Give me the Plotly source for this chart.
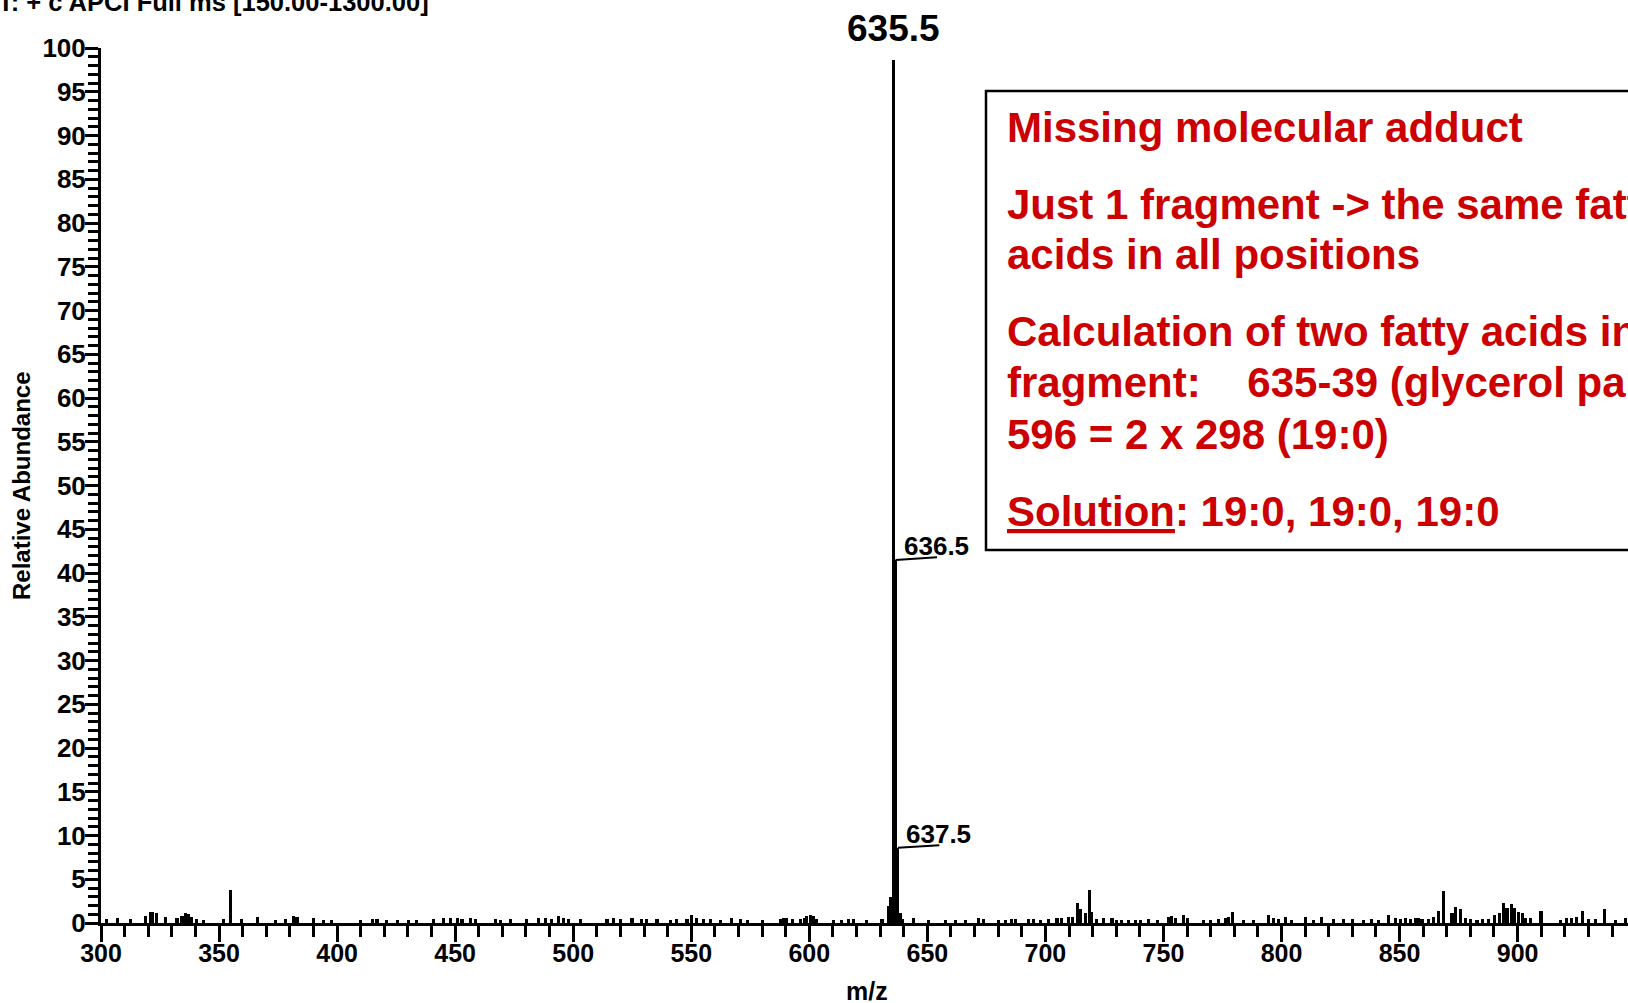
import plotly.graph_objects as go

# scan header of the original screenshot (only its lower half is visible)
scan_filter = "T: + c APCI Full ms [150.00-1300.00]"

# centroid sticks: m/z and relative abundance (%)
peak_mz = [
    302.5, 306.8, 312.4, 318.8, 320.9, 321.9, 323.7, 327.2, 332.2, 334.3, 335.7, 337.1, 338.5, 340.6, 343.5,
    351.9, 355.0, 359.7, 366.3, 373.8, 378.1, 381.6, 383.0, 390.1, 394.3, 397.8, 409.8, 414.8, 416.9, 421.1,
    425.4, 430.3, 433.8,
    440.9, 445.1, 447.9, 450.8, 452.9, 456.4, 458.5, 467.0, 469.1, 473.4, 480.4, 485.4, 488.2, 491.0, 493.8,
    496.0, 498.1, 503.0, 514.3, 517.1, 519.9, 524.9, 529.1, 531.2, 535.5, 541.1, 543.9, 548.2, 550.3, 552.4,
    555.2, 558.1, 562.3, 567.2, 570.8, 574.0,
    580.0, 587.7, 589.1, 590.5, 592.7, 596.2, 598.0, 599.0, 600.4, 601.8, 603.2, 610.3, 613.8, 616.7, 618.8,
    624.4, 630.8, 633.5, 634.5, 635.5, 636.5, 637.5, 638.5, 639.5, 644.2, 650.5, 657.6, 661.8, 666.1, 671.7,
    673.8, 680.2, 683.0, 685.8, 687.3, 692.9, 695.0, 697.8, 701.4, 704.9, 707.0, 709.6, 711.6,
    713.4, 714.8, 716.9, 718.6, 719.7, 721.8, 724.7, 728.2, 730.3, 732.4, 735.3, 738.1, 740.2, 743.7, 747.3,
    752.2, 753.6, 755.0, 758.6, 760.0, 767.0, 769.9, 773.4, 776.2, 777.6, 779.4, 784.0, 788.2, 794.6, 796.7,
    798.8, 801.6, 804.4, 810.1, 813.6, 817.1, 822.1, 826.3, 829.9, 834.8, 838.3, 841.1, 845.4, 848.2,
    850.3, 852.4, 854.6, 856.7, 858.1, 859.5, 862.3, 864.4, 866.3, 868.7, 872.2, 873.6, 875.7, 877.8, 880.0,
    882.8, 885.2, 887.7, 890.3, 892.2, 894.2, 895.5, 897.3, 898.7, 900.4, 901.9, 903.5, 905.4, 909.9, 918.1,
    920.9, 923.0, 925.1, 927.3, 930.1, 932.9, 936.7, 941.4, 945.6,
]
peak_int = [
    0.42, 0.53, 0.42, 0.80, 1.30, 1.30, 1.10, 0.65, 0.53, 0.80, 1.18, 1.03, 0.72, 0.42, 0.34,
    0.42, 3.77, 0.42, 0.65, 0.34, 0.42, 0.80, 0.72, 0.53, 0.34, 0.34, 0.34, 0.42, 0.42, 0.34,
    0.34, 0.34, 0.34,
    0.42, 0.53, 0.53, 0.53, 0.42, 0.53, 0.42, 0.42, 0.34, 0.42, 0.42, 0.53, 0.53, 0.42, 0.80,
    0.61, 0.42, 0.42, 0.42, 0.53, 0.42, 0.53, 0.42, 0.42, 0.42, 0.34, 0.42, 0.42, 0.91, 0.53,
    0.42, 0.42, 0.34, 0.53, 0.42, 0.34,
    0.34, 0.42, 0.53, 0.53, 0.42, 0.42, 0.61, 0.80, 0.91, 0.80, 0.42, 0.34, 0.34, 0.42, 0.42,
    0.34, 0.42, 1.90, 3.00, 98.6, 41.5, 8.60, 1.10, 0.50, 0.53, 0.34, 0.34, 0.34, 0.34, 0.53,
    0.42, 0.34, 0.34, 0.42, 0.42, 0.42, 0.42, 0.34, 0.42, 0.53, 0.53, 0.72, 0.72,
    2.25, 1.56, 1.10, 3.77, 1.30, 0.42, 0.53, 0.53, 0.34, 0.34, 0.34, 0.34, 0.34, 0.42, 0.34,
    0.72, 0.80, 0.53, 0.91, 0.53, 0.34, 0.34, 0.42, 0.53, 0.72, 1.30, 0.34, 0.34, 0.91, 0.53,
    0.42, 0.72, 0.34, 0.65, 0.34, 0.72, 0.42, 0.42, 0.42, 0.34, 0.42, 0.34, 0.91, 0.53,
    0.42, 0.53, 0.42, 0.53, 0.53, 0.42, 0.42, 0.72, 1.41, 3.70, 1.10, 1.87, 1.56, 0.53, 0.42,
    0.34, 0.42, 0.42, 0.91, 1.10, 2.25, 1.68, 2.17, 1.68, 1.30, 1.10, 0.53, 0.53, 1.41, 0.34,
    0.53, 0.53, 0.72, 1.41, 0.42, 0.42, 1.56, 0.34, 0.53,
]
assert len(peak_mz) == len(peak_int)

# peaks carrying an m/z label
label_mz = [635.5, 636.5, 637.5]
label_text = ["635.5", "636.5", "637.5"]

x_ticks = list(range(300, 950, 50))
y_ticks = list(range(0, 105, 5))

note_lines = [
    "Missing molecular adduct",
    "Just 1 fragment -> the same fatty",
    "acids in all positions",
    "Calculation of two fatty acids in the",
    "fragment:" + "\u00a0" * 4 + "635-39 (glycerol part) =",
    "596 = 2 x 298 (19:0)",
    "<u>Solution</u>: 19:0, 19:0, 19:0",
]
note_rows = [127, 204, 255, 332, 383, 434, 511]  # pixel rows of the note lines

# page geometry
W, H = 1628, 1003
ML, MT, MB = 101, 48, 80
PW, PH = W - ML, H - MT - MB
PX_PER_MZ = 2.361
PX_PER_PCT = PH / 100
FONT = "Liberation Sans, Arial, sans-serif"
RED = "#CC0000"


def px(x):
    return (x - ML) / PW


def py(y):
    return 1 - (y - MT) / PH


fig = go.Figure()

fig.add_trace(
    go.Bar(
        x=peak_mz,
        y=peak_int,
        width=1.3,
        marker=dict(color="black", line=dict(width=0)),
        hoverinfo="skip",
        showlegend=False,
    )
)

ann = []
for mz, txt in zip(label_mz, label_text):
    v = peak_int[peak_mz.index(mz)]
    if v > 90:
        # base peak label sits above the plot area -> place it in paper units
        top_px = MT + (100 - v) * PX_PER_PCT
        ann.append(dict(x=mz, y=py(top_px - 32), xref="x", yref="paper", text=txt, showarrow=False,
                        xanchor="center", yanchor="middle",
                        font=dict(family=FONT, size=37, color="black", weight="bold")))
        continue
    # slanted leader from the stick top under the label
    fig.add_trace(
        go.Scatter(
            x=[mz, mz + 17.6],
            y=[v, v + 0.3],
            mode="lines",
            line=dict(color="black", width=2),
            hoverinfo="skip",
            showlegend=False,
        )
    )
    ann.append(dict(x=mz + 2.6, y=v + 1.6, xref="x", yref="y", text=txt, showarrow=False,
                    xanchor="left", yanchor="middle",
                    font=dict(family=FONT, size=26, color="black", weight="bold")))

ann.append(dict(x=px(-4), y=py(18), xref="paper", yref="paper", text=scan_filter, showarrow=False,
                xanchor="left", yanchor="bottom",
                font=dict(family=FONT, size=25.5, color="black", weight="bold")))
ann.append(dict(x=px(21), y=py(486), xref="paper", yref="paper", text="Relative Abundance",
                showarrow=False, textangle=-90, xanchor="center", yanchor="middle",
                font=dict(family=FONT, size=24, color="black", weight="bold")))
ann.append(dict(x=px(867), y=py(991), xref="paper", yref="paper", text="m/z", showarrow=False,
                xanchor="center", yanchor="middle",
                font=dict(family=FONT, size=25, color="black", weight="bold")))

for line, row in zip(note_lines, note_rows):
    ann.append(dict(x=px(1005), y=py(row), xref="paper", yref="paper", text=line, showarrow=False,
                    xanchor="left", yanchor="middle",
                    font=dict(family=FONT, size=42, color=RED, weight="bold")))

fig.add_shape(type="rect", xref="paper", yref="paper",
              x0=px(986), x1=px(1720), y0=py(550), y1=py(91),
              line=dict(color="black", width=2.5), fillcolor="rgba(0,0,0,0)")

fig.update_layout(
    width=W,
    height=H,
    margin=dict(l=ML, r=0, t=MT, b=MB, pad=0),
    paper_bgcolor="white",
    plot_bgcolor="white",
    showlegend=False,
    bargap=0,
    annotations=ann,
    font=dict(family=FONT, color="black"),
    xaxis=dict(
        range=[300, 300 + PW / PX_PER_MZ],
        tickvals=x_ticks,
        ticks="outside",
        ticklen=16,
        tickwidth=3,
        tickcolor="black",
        ticklabelstandoff=-10,
        tickfont=dict(family=FONT, size=25, color="black", weight="bold"),
        minor=dict(dtick=10, tick0=300, ticks="outside", ticklen=11, tickwidth=3, tickcolor="black"),
        showline=True,
        linewidth=3,
        linecolor="black",
        showgrid=False,
        zeroline=False,
    ),
    yaxis=dict(
        range=[0, 100],
        tickvals=y_ticks,
        ticks="outside",
        ticklen=13,
        tickwidth=3,
        tickcolor="black",
        ticklabelstandoff=-6,
        tickfont=dict(family=FONT, size=26, color="black", weight="bold"),
        minor=dict(dtick=1, tick0=0, ticks="outside", ticklen=10, tickwidth=2.5, tickcolor="black"),
        showline=True,
        linewidth=3,
        linecolor="black",
        showgrid=False,
        zeroline=False,
    ),
)

fig.write_html(
    "out.html",
    config={"displayModeBar": False},
    post_script="document.body.style.margin='0';document.body.style.overflow='hidden';",
)
